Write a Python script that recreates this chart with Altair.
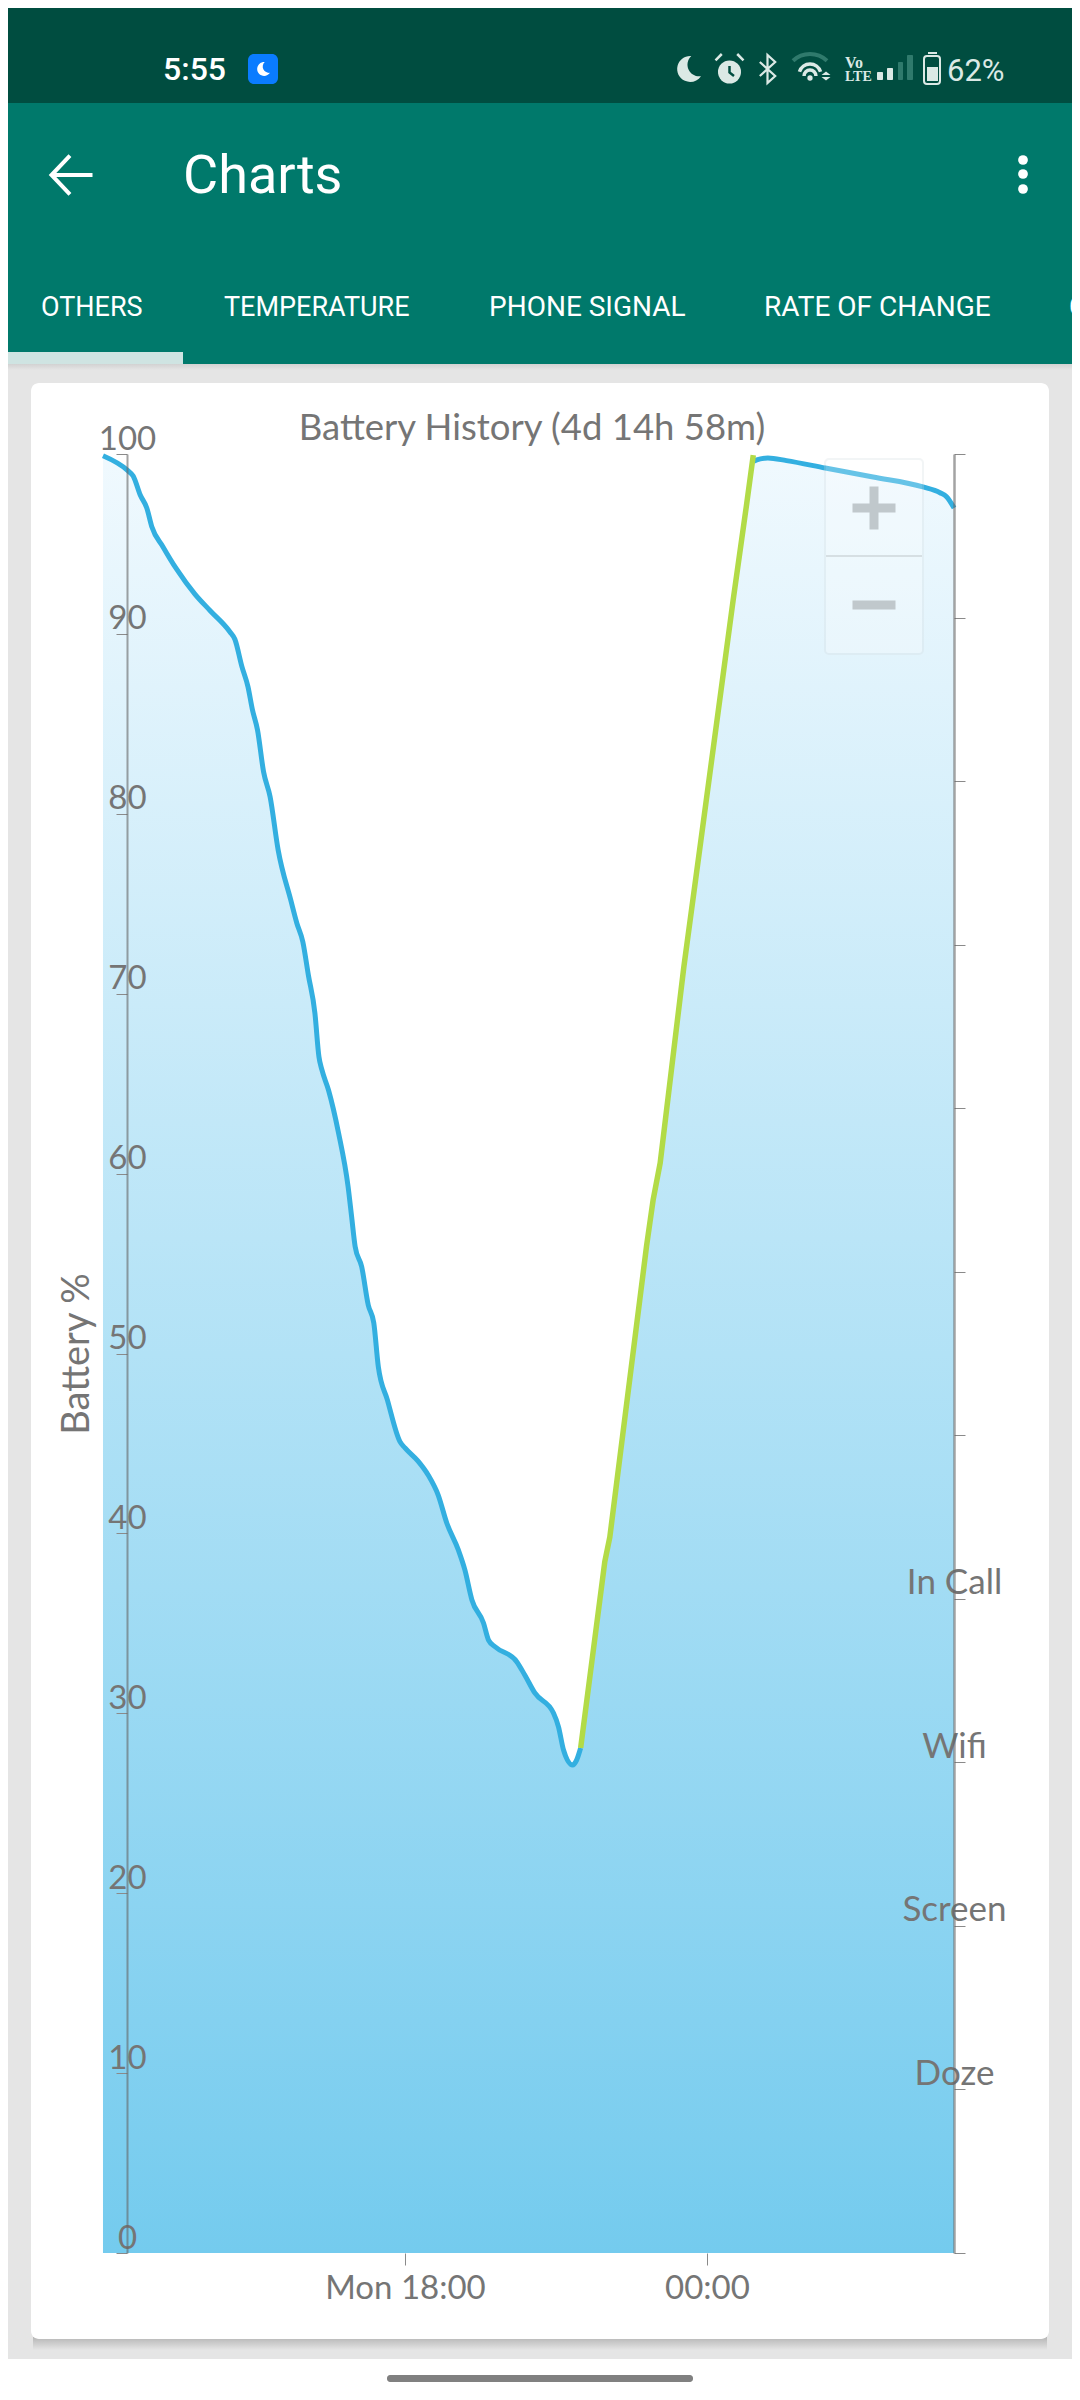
import altair as alt
import pandas as pd

# ---- chart values ----
# hours since Monday 00:00, battery percent
drain1_hours = [12.0, 12.50, 12.60, 12.74, 12.87, 12.97, 13.19, 13.46, 13.83, 14.13, 14.52, 14.62, 14.76, 14.88,
                14.97, 15.07, 15.19, 15.32, 15.48, 15.73, 15.85, 15.97, 16.08, 16.21, 16.29, 16.35, 16.48, 16.68,
                16.87, 16.94, 17.01, 17.14, 17.27, 17.38, 17.47, 17.65, 17.90, 18.00, 18.26, 18.46, 18.66, 18.83,
                19.06, 19.19, 19.33, 19.56, 19.66, 19.79, 20.22, 20.38, 20.58, 20.95, 21.05, 21.15, 21.33, 21.41,
                21.49]
drain1_pct = [99.9, 99.06, 98.78, 97.72, 97.0, 95.96, 94.85, 93.61, 92.2, 91.29, 90.12, 89.7, 88.18, 87.07,
              85.77, 84.66, 82.34, 80.95, 77.99, 75.21, 73.93, 72.89, 71.04, 68.93, 66.5, 65.76, 64.65, 62.26,
              59.27, 57.6, 55.94, 54.82, 52.7, 51.7, 49.27, 47.42, 45.1, 44.75, 44.02, 43.25, 42.13, 40.58,
              39.08, 37.97, 36.3, 35.02, 34.07, 33.7, 32.87, 32.13, 31.13, 30.02, 29.25, 27.96, 27.13, 27.4,
              28.07]
charge_hours = [21.49, 21.97, 22.07, 22.80, 22.93, 23.07, 23.54, 23.88, 24.52, 24.78, 24.92]
charge_pct = [28.07, 38.43, 39.8, 55.98, 58.53, 60.59, 71.48, 78.54, 91.88, 97.05, 99.94]
drain2_hours = [24.93, 24.99, 25.21, 25.58, 26.35, 27.30, 28.29, 28.63, 28.76, 28.91]
drain2_pct = [99.6, 99.67, 99.78, 99.63, 99.22, 98.72, 98.17, 97.85, 97.63, 97.0]

y_ticks = [0, 10, 20, 30, 40, 50, 60, 70, 80, 90, 100]
x_tick_hours = [18, 24]
x_tick_labels = ["Mon 18:00", "00:00"]
side_ticks = [0, 1, 2, 3, 4, 5, 6, 7, 8, 9, 10, 11]
side_values = [1, 2, 3, 4]
side_labels = ["Doze", "Screen", "Wifi", "In Call"]
tabs = ["OTHERS", "TEMPERATURE", "PHONE SIGNAL", "RATE OF CHANGE"]

# ---- styles ----
GREY = "#757575"
FONT = "Lato"
UI = "Roboto"
BLUE = "#33afe0"
GREEN = "#b2db47"
ONE = alt.Data(values=[{}])

# page position -> plot position (page margin 8 + padding)
PL, PT = 127, 454
def X(v):
    return alt.value(v - PL)
def Y(v):
    return alt.value(v - PT)

def box(x0, x1, y0, y1, color, **kw):
    return alt.Chart(ONE).mark_rect(color=color, **kw).encode(x=X(x0), x2=X(x1), y=Y(y0), y2=Y(y1))

def label(s, x, y, size, color="white", font=UI, align="left", weight="normal"):
    return alt.Chart(ONE).mark_text(font=font, fontSize=size, color=color, align=align, baseline="alphabetic",
                                    fontWeight=weight).encode(x=X(x), y=Y(y), text=alt.value(s))

def glyph(path, cx, cy, size, color, filled=True, sw=0):
    return alt.Chart(ONE).mark_point(shape=path, filled=filled, size=size ** 2, color=color, strokeWidth=sw,
                                     opacity=1).encode(x=X(cx), y=Y(cy))

def dot(cx, cy, d, color):
    return alt.Chart(ONE).mark_circle(size=3.1416 * (d / 2) ** 2, color=color, opacity=1).encode(x=X(cx), y=Y(cy))

def fade(top, bottom):
    return alt.Gradient(gradient="linear", x1=0, x2=0, y1=0, y2=1,
                        stops=[alt.GradientStop(color=top, offset=0), alt.GradientStop(color=bottom, offset=1)])

MOON = "M0.25,-1 A1,1 0 1 0 1,0.55 A0.9,0.9 0 0 1 0.25,-1 Z"
ICON = "#dbe9e5"
DIM = "#2f7a6c"
back = [
    box(0, 1080, 0, 2400, "#e5e5e5"),
    box(0, 1080, 0, 103, "#004d40"),
    box(0, 1080, 103, 364, "#00796b"),
    box(0, 183, 352, 364, "#cfe4e2"),
    box(0, 1080, 364, 370, fade("#d2d2d2", "#e5e5e5")),
    box(33, 1047, 2337, 2350, fade("#b5b5b5", "#e5e5e5")),
    box(31, 1049, 383, 2339, "white", cornerRadius=8),
    box(0, 1080, 2359, 2400, "white"),
    box(387, 693, 2375, 2382, "#808080", cornerRadius=3),
    label("5:55", 163, 80, 32, weight=500),
    box(248, 278, 54, 84, "#0a7cff", cornerRadius=6),
    glyph(MOON, 263, 69, 14, "white"),
    glyph(MOON, 688, 69, 26, ICON),
    dot(729.5, 72, 26, ICON),
    glyph("M0,-0.6 L0,0.05 L0.45,0.4", 729.5, 72, 20, "#004d40", filled=False, sw=2.5),
    glyph("M-1,-0.55 L-0.55,-1 M1,-0.55 L0.55,-1", 729.5, 68, 28, ICON, filled=False, sw=2.5),
    glyph("M-0.55,-0.5 L0.55,0.5 L0,1 L0,-1 L0.55,-0.5 L-0.55,0.5", 767.5, 69, 28, ICON, filled=False, sw=2.2),
    glyph("M-1,-0.43 A1.47,1.47 0 0 1 1,-0.43", 810, 68, 34, DIM, filled=False, sw=4),
    glyph("M-0.62,0.22 A0.65,0.65 0 0 1 0.62,0.22 M-0.35,0.47 A0.35,0.35 0 0 1 0.35,0.47", 810, 68, 34, ICON,
          filled=False, sw=3.5),
    dot(810, 78, 6, ICON),
    glyph("M-1,-0.2 L1,-0.2 L0,-1 Z M-1,0.2 L1,0.2 L0,1 Z", 826, 76, 9, ICON),
    label("Vo", 845, 68, 16, color=ICON, font="Liberation Sans Narrow", weight="bold"),
    label("LTE", 845, 81, 14, color=ICON, font="Liberation Sans Narrow", weight="bold"),
    box(877, 883, 72, 80, ICON, cornerRadius=1),
    box(887, 893, 68, 80, ICON, cornerRadius=1),
    box(898, 903, 62, 80, DIM, cornerRadius=1),
    box(907, 913, 55, 80, DIM, cornerRadius=1),
    box(928, 937, 52, 54, ICON),
    box(924, 940, 56, 84, "#004d40", stroke=ICON, strokeWidth=2, cornerRadius=3),
    box(927, 938, 67, 81, ICON),
    label("62%", 947, 80.7, 31, color=ICON),
    glyph("M-1,0 L1,0 M-0.1,-0.95 L-1,0 L-0.1,0.95", 72, 175, 41, "white", filled=False, sw=4),
    label("Charts", 183, 193, 54),
    dot(1023, 160, 11, "white"),
    dot(1023, 174, 11, "white"),
    dot(1023, 189, 11, "white"),
    label(tabs[0], 41, 316, 27),
    label(tabs[1], 224, 316, 27),
    label(tabs[2], 489, 316, 28),
    label(tabs[3], 764, 316, 28),
    label("C", 1069, 316, 27),
    label("Battery History (4d 14h 58m)", 532, 440, 36.5, color=GREY, font=FONT, align="center"),
]

# ---- data ----
rows = (
    [{"hour": h, "pct": p, "segment": "drain1"} for h, p in zip(drain1_hours, drain1_pct)]
    + [{"hour": h, "pct": p, "segment": "charge"} for h, p in zip(charge_hours, charge_pct)]
    + [{"hour": h, "pct": p, "segment": "drain2"} for h, p in zip(drain2_hours, drain2_pct)]
)
df = pd.DataFrame(rows)
area_df = df.drop_duplicates(subset="hour")[["hour", "pct"]]
drain_df = df[df["segment"] != "charge"]
charge_df = df[df["segment"] == "charge"]

x_expr = " : ".join(f"datum.value == {v} ? '{t}'" for v, t in zip(x_tick_hours, x_tick_labels)) + " : ''"
side_expr = " : ".join(f"datum.value == {v} ? '{t}'" for v, t in zip(side_values, side_labels)) + " : ''"

x_scale = alt.Scale(domain=[12.477, 28.908], nice=False, zero=False)
y_scale = alt.Scale(domain=[0, 100], nice=False)
x_axis = alt.Axis(values=x_tick_hours, labelExpr=x_expr, title=None, grid=False, domain=False, tickSize=12,
                  tickColor="#8a8a8a", tickWidth=1, labelFont=FONT, labelFontSize=33, labelColor=GREY,
                  labelPadding=33, labelBaseline="alphabetic", labelOverlap=False, zindex=1)
y_axis = alt.Axis(values=y_ticks, orient="left", title="Battery %", titleFont=FONT, titleFontSize=38,
                  titleFontWeight="normal", titleColor=GREY, titleX=-39, titleBaseline="alphabetic",
                  titleAngle=270, grid=False, domain=True, domainColor="#666666", domainOpacity=0.6, domainWidth=2,
                  tickSize=11, tickColor="#8a8a8a", tickWidth=1, labelFont=FONT, labelFontSize=33, labelColor=GREY,
                  labelAlign="center", labelBaseline="alphabetic", labelPadding=-11, labelOffset=-5,
                  labelOverlap=False, zindex=1)
side_axis = alt.Axis(values=side_ticks, orient="right", title=None, labelExpr=side_expr, grid=False, domain=True,
                     domainColor="#666666", domainOpacity=0.6, domainWidth=2.5, tickSize=11, tickColor="#8a8a8a",
                     tickWidth=1, labelFont=FONT, labelFontSize=35, labelColor=GREY, labelAlign="center",
                     labelBaseline="alphabetic", labelPadding=-11, labelOffset=-5, labelOverlap=False, zindex=1)

area = alt.Chart(area_df).mark_area(
    interpolate="monotone", clip=False, color=fade("#f0f9fe", "#74cbee"),
).encode(
    x=alt.X("hour:Q", scale=x_scale, axis=x_axis),
    y=alt.Y("pct:Q", scale=y_scale, axis=y_axis),
)
drain_line = alt.Chart(drain_df).mark_line(interpolate="monotone", strokeWidth=5, clip=False).encode(
    x=alt.X("hour:Q", scale=x_scale, axis=x_axis),
    y=alt.Y("pct:Q", scale=y_scale, axis=y_axis),
    color=alt.Color("segment:N", legend=None, scale=alt.Scale(domain=["drain1", "drain2"], range=[BLUE, BLUE])),
)
charge_line = alt.Chart(charge_df).mark_line(interpolate="linear", strokeWidth=5.5, clip=False, color=GREEN).encode(
    x=alt.X("hour:Q", scale=x_scale, axis=x_axis),
    y=alt.Y("pct:Q", scale=y_scale, axis=y_axis),
)
left = alt.layer(area, drain_line, charge_line)

side = alt.Chart(pd.DataFrame({"tick": side_values})).mark_point(opacity=0).encode(
    y=alt.Y("tick:Q", scale=alt.Scale(domain=[0, 11], nice=False), axis=side_axis)
)

front = [
    box(825, 923, 459, 654, "white", opacity=0.25, stroke="#cfd8dc", strokeWidth=2, cornerRadius=4),
    box(826, 922, 555, 557, "#cfd8dc", opacity=0.8),
    box(852.5, 895.5, 503.5, 512.5, "#c0c8cc"),
    box(869.5, 878.5, 486.5, 529.5, "#c0c8cc"),
    box(852.5, 895.5, 600.5, 609.5, "#c0c8cc"),
]

chart = alt.layer(*back, left, side, *front).resolve_scale(y="independent").properties(
    width=827, height=1799,
    padding={"left": 119, "top": 446, "right": 118, "bottom": 135},
    autosize=alt.AutoSizeParams(type="none"),
).configure_view(stroke=None)

chart.save("out.html", embed_options={"renderer": "svg", "actions": False})
